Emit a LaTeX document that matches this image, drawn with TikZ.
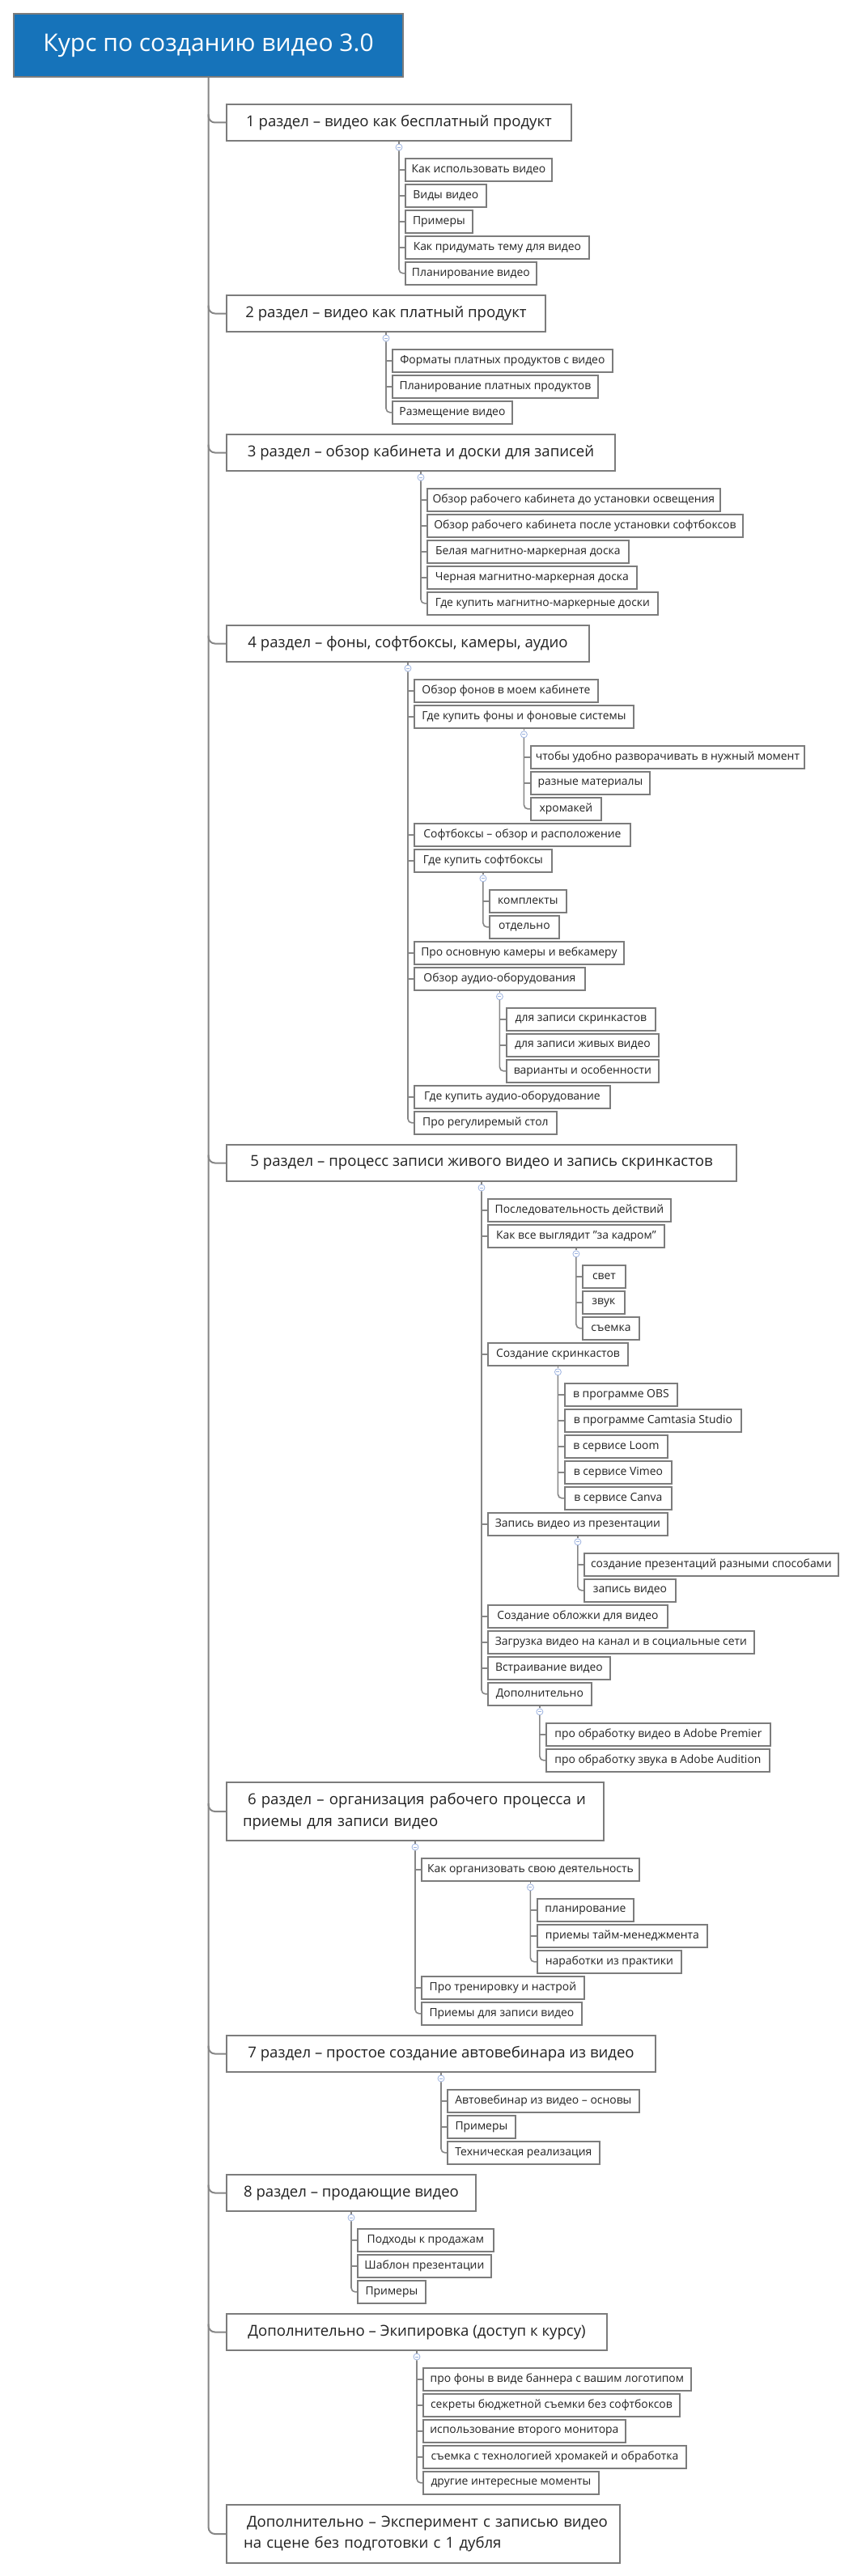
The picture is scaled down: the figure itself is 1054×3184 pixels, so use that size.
\documentclass[tikz,border=0pt]{standalone}
\usepackage{fontspec}
\setmainfont{Open Sans}
\usetikzlibrary{calc}
\definecolor{lgray}{HTML}{868686}
\definecolor{bgray}{HTML}{7C7C7C}
\definecolor{tblue}{HTML}{1673BA}
\definecolor{ctext}{HTML}{222222}
\definecolor{cblue}{HTML}{9DB3E0}
\newcommand\mkid[5]{\pgfmathsetmacro\mw{#4-#2}\node[kidbox, minimum width=\mw pt, anchor=north west] (#1) at (#2,#3) {#5};}
\newcommand\msec[5]{\pgfmathsetmacro\mw{#4-#2}\node[secbox, minimum width=\mw pt, anchor=north west] (#1) at (#2,#3) {#5};}
\newcommand\mcirc[2]{\node[ccirc] (#1) at ([yshift=-7pt]#2.south) {}; \draw[sub] (#2.south) -- (#1.north);}
\newcommand\mtree[3]{\draw[sub, rounded corners=5pt] (#1.south) |- (#2.west); \foreach \k in {#3} {\draw[sub] (#1.south |- \k.west) -- (\k.west);}}
\begin{document}
\begin{tikzpicture}[x={(1pt,0)}, y={(0,-1pt)},
  kidbox/.style={draw=bgray, line width=1.8pt, fill=white, minimum height=28pt, inner sep=0pt, font=\fontsize{13.9}{16}\selectfont, text=ctext},
  secbox/.style={draw=bgray, line width=2pt, fill=white, minimum height=45pt, inner sep=0pt, font=\fontsize{18.6}{26.5}\selectfont, text=ctext},
  titlebox/.style={draw=bgray, line width=2.2pt, fill=tblue, inner sep=0pt, font=\fontsize{30}{34}\selectfont, text=white},
  sub/.style={draw=lgray, line width=1.6pt},
  trunkline/.style={draw=lgray, line width=2pt},
  ccirc/.style={circle, draw=cblue, fill=white, line width=0.8pt, minimum size=8pt, inner sep=0pt,
    path picture={\draw[cblue, line width=0.8pt] ([xshift=-2pt]path picture bounding box.center) -- ([xshift=2pt]path picture bounding box.center);}}
]
\useasboundingbox[fill=white] (0,0) rectangle (1054,3184);

\node[titlebox, anchor=north west, minimum width=481pt, minimum height=78pt] (title) at (16,16) {Курс по созданию видео 3.0};

% Section 1
\msec{s1}{279}{128}{705}{1 раздел – видео как бесплатный продукт}
\mkid{a1}{500}{195}{681}{Как использовать видео}
\mkid{a2}{500}{227}{600}{Виды видео}
\mkid{a3}{500}{259}{583}{Примеры}
\mkid{a4}{500}{291}{727}{Как придумать тему для видео}
\mkid{a5}{500}{323}{662}{Планирование видео}

% Section 2
\msec{s2}{279}{364}{673}{2 раздел – видео как платный продукт}
\mkid{b1}{484}{431}{756}{Форматы платных продуктов с видео}
\mkid{b2}{484}{463}{738}{Планирование платных продуктов}
\mkid{b3}{484}{495}{632}{Размещение видео}

% Section 3
\msec{s3}{279}{536}{759}{3 раздел – обзор кабинета и доски для записей}
\mkid{c1}{527}{603}{889}{Обзор рабочего кабинета до установки освещения}
\mkid{c2}{527}{635}{917}{Обзор рабочего кабинета после установки софтбоксов}
\mkid{c3}{527}{667}{776}{Белая магнитно-маркерная доска}
\mkid{c4}{527}{699}{786}{Черная магнитно-маркерная доска}
\mkid{c5}{527}{731}{812}{Где купить магнитно-маркерные доски}

% Section 4
\msec{s4}{279}{772}{727}{4 раздел – фоны, софтбоксы, камеры, аудио}
\mkid{d1}{511}{839}{738}{Обзор фонов в моем кабинете}
\mkid{d2}{511}{871}{782}{Где купить фоны и фоновые системы}
\mkid{e1}{655}{921}{993}{чтобы удобно разворачивать в нужный момент}
\mkid{e2}{655}{953}{802}{разные материалы}
\mkid{e3}{655}{985}{742}{хромакей}
\mkid{d3}{511}{1017}{778}{Софтбоксы – обзор и расположение}
\mkid{d4}{511}{1049}{681}{Где купить софтбоксы}
\mkid{f1}{604}{1099}{699}{комплекты}
\mkid{f2}{604}{1131}{690}{отдельно}
\mkid{d5}{511}{1163}{770}{Про основную камеры и вебкамеру}
\mkid{d6}{511}{1195}{722}{Обзор аудио-оборудования}
\mkid{g1}{625}{1245}{809}{для записи скринкастов}
\mkid{g2}{625}{1277}{813}{для записи живых видео}
\mkid{g3}{625}{1309}{813}{варианты и особенности}
\mkid{d7}{511}{1341}{753}{Где купить аудио-оборудование}
\mkid{d8}{511}{1373}{687}{Про регулиремый стол}

% Section 5
\msec{s5}{279}{1414}{909}{5 раздел – процесс записи живого видео и запись скринкастов}
\mkid{h1}{602}{1481}{828}{Последовательность действий}
\mkid{h2}{602}{1513}{820}{Как все выглядит "за кадром"}
\mkid{i1}{719}{1563}{772}{свет}
\mkid{i2}{719}{1595}{771}{звук}
\mkid{i3}{719}{1627}{789}{съемка}
\mkid{h3}{602}{1659}{775}{Создание скринкастов}
\mkid{j1}{697}{1709}{836}{в программе OBS}
\mkid{j2}{697}{1741}{915}{в программе Camtasia Studio}
\mkid{j3}{697}{1773}{824}{в сервисе Loom}
\mkid{j4}{697}{1805}{829}{в сервисе Vimeo}
\mkid{j5}{697}{1837}{829}{в сервисе Canva}
\mkid{h4}{602}{1869}{824}{Запись видео из презентации}
\mkid{l1}{721}{1919}{1035}{создание презентаций разными способами}
\mkid{l2}{721}{1951}{834}{запись видео}
\mkid{h5}{602}{1983}{824}{Создание обложки для видео}
\mkid{h6}{602}{2015}{931}{Загрузка видео на канал и в социальные сети}
\mkid{h7}{602}{2047}{753}{Встраивание видео}
\mkid{h8}{602}{2079}{730}{Дополнительно}
\mkid{m1}{674}{2129}{951}{про обработку видео в Adobe Premier}
\mkid{m2}{674}{2161}{950}{про обработку звука в Adobe Audition}

% Section 6
\node[secbox, anchor=north west, minimum width=466pt, minimum height=72pt, text width=426pt, inner xsep=20pt, align=left] (s6) at (279,2202) {\mbox{\hspace*{6pt}6 раздел – организация рабочего процесса и}\\\mbox{приемы для записи видео}};
\mkid{n1}{520}{2296}{789}{Как организовать свою деятельность}
\mkid{o1}{663}{2346}{782}{планирование}
\mkid{o2}{663}{2378}{873}{приемы тайм-менеджмента}
\mkid{o3}{663}{2410}{841}{наработки из практики}
\mkid{n2}{520}{2442}{721}{Про тренировку и настрой}
\mkid{n3}{520}{2474}{718}{Приемы для записи видео}

% Section 7
\msec{s7}{279}{2515}{809}{7 раздел – простое создание автовебинара из видео}
\mkid{p1}{552}{2582}{789}{Автовебинар из видео – основы}
\mkid{p2}{552}{2614}{636}{Примеры}
\mkid{p3}{552}{2646}{740}{Техническая реализация}

% Section 8
\msec{s8}{279}{2687}{587}{8 раздел – продающие видео}
\mkid{q1}{441}{2754}{609}{Подходы к продажам}
\mkid{q2}{441}{2786}{606}{Шаблон презентации}
\mkid{q3}{441}{2818}{525}{Примеры}

% Extra 1
\msec{x1}{279}{2859}{749}{Дополнительно – Экипировка (доступ к курсу)}
\mkid{r1}{522}{2926}{853}{про фоны в виде баннера с вашим логотипом}
\mkid{r2}{522}{2958}{839}{секреты бюджетной съемки без софтбоксов}
\mkid{r3}{522}{2990}{772}{использование второго монитора}
\mkid{r4}{522}{3022}{847}{съемка с технологией хромакей и обработка}
\mkid{r5}{522}{3054}{739}{другие интересные моменты}

% Extra 2
\node[secbox, anchor=north west, minimum width=486pt, minimum height=72pt, text width=444pt, inner xsep=21pt, align=left] (x2) at (279,3095) {\mbox{\hspace*{4pt}Дополнительно – Эксперимент с записью видео}\\\mbox{на сцене без подготовки с 1 дубля}};

% trunk and section connectors
\draw[trunkline, rounded corners=8pt] (title.south) |- (x2.west);
\foreach \s in {s1,s2,s3,s4,s5,s6,s7,s8,x1} {
  \draw[trunkline, rounded corners=8pt] ([yshift=10pt]title.south |- \s.west) |- (\s.west);
}

% child trees
\mcirc{ca}{s1} \mtree{ca}{a5}{a1,a2,a3,a4}
\mcirc{cb}{s2} \mtree{cb}{b3}{b1,b2}
\mcirc{cc}{s3} \mtree{cc}{c5}{c1,c2,c3,c4}
\mcirc{cd}{s4} \mtree{cd}{d8}{d1,d2,d3,d4,d5,d6,d7}
\mcirc{ce}{d2} \mtree{ce}{e3}{e1,e2}
\mcirc{cf}{d4} \mtree{cf}{f2}{f1}
\mcirc{cg}{d6} \mtree{cg}{g3}{g1,g2}
\mcirc{ch}{s5} \mtree{ch}{h8}{h1,h2,h3,h4,h5,h6,h7}
\mcirc{ci}{h2} \mtree{ci}{i3}{i1,i2}
\mcirc{cj}{h3} \mtree{cj}{j5}{j1,j2,j3,j4}
\mcirc{cl}{h4} \mtree{cl}{l2}{l1}
\mcirc{cm}{h8} \mtree{cm}{m2}{m1}
\mcirc{cn}{s6} \mtree{cn}{n3}{n1,n2}
\mcirc{co}{n1} \mtree{co}{o3}{o1,o2}
\mcirc{cp}{s7} \mtree{cp}{p3}{p1,p2}
\mcirc{cq}{s8} \mtree{cq}{q3}{q1,q2}
\mcirc{cr}{x1} \mtree{cr}{r5}{r1,r2,r3,r4}
\end{tikzpicture}
\end{document}
